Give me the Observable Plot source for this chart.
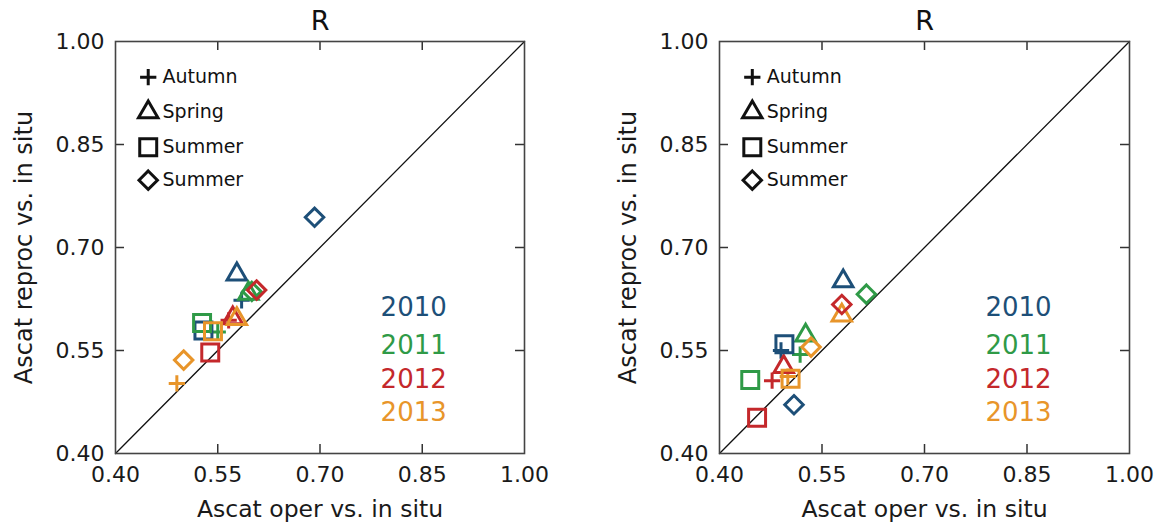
<!DOCTYPE html>
<html>
<head>
<meta charset="utf-8">
<script src="https://cdn.jsdelivr.net/npm/d3@7"></script>
<script src="https://cdn.jsdelivr.net/npm/@observablehq/plot@0.6"></script>
<style>
  html, body { margin: 0; padding: 0; background: #fff; }
  #wrap { display: flex; width: 1164px; height: 523px; }
</style>
</head>
<body>
<div id="wrap"></div>
<script>
// ---- categories ----
const years = ["2010", "2011", "2012", "2013"];
const yearColors = ["#1d4f78", "#2f9a47", "#c4282b", "#e8952a"];
const seasons = ["Autumn", "Spring", "Summer", "Summer"]; // legend labels as printed
const seasonSymbols = ["plus", "triangle2", "square2", "diamond2"];
const seasonRadius = [5.3, 9.3, 10.8, 8.3];
const tickValues = [0.40, 0.55, 0.70, 0.85, 1.00];
const innerTicks = [0.55, 0.70, 0.85];
const axisDomain = [0.40, 1.00];

// ---- left panel values: [Autumn, Spring, Summer(square), Summer(diamond)] ----
const leftOper2010 = [0.585, 0.578, 0.529, 0.692];
const leftReproc2010 = [0.623, 0.661, 0.579, 0.744];
const leftOper2011 = [0.550, 0.595, 0.527, 0.600];
const leftReproc2011 = [0.577, 0.633, 0.590, 0.636];
const leftOper2012 = [0.566, 0.572, 0.539, 0.607];
const leftReproc2012 = [0.594, 0.597, 0.547, 0.638];
const leftOper2013 = [0.490, 0.578, 0.543, 0.500];
const leftReproc2013 = [0.502, 0.596, 0.578, 0.536];

// ---- right panel values ----
const rightOper2010 = [0.490, 0.581, 0.495, 0.509];
const rightReproc2010 = [0.550, 0.651, 0.559, 0.471];
const rightOper2011 = [0.518, 0.526, 0.445, 0.615];
const rightReproc2011 = [0.544, 0.572, 0.507, 0.632];
const rightOper2012 = [0.477, 0.494, 0.455, 0.579];
const rightReproc2012 = [0.506, 0.526, 0.452, 0.617];
const rightOper2013 = [0.500, 0.579, 0.504, 0.534];
const rightReproc2013 = [0.512, 0.601, 0.509, 0.555];

// legend / annotation positions (data units)
const legendY = [0.948, 0.897, 0.846, 0.798];
const yearLabelY = [0.612, 0.557, 0.507, 0.459];

function panel(oper, reproc, marginLeft, marginRight) {
  const rows = [];
  years.forEach((yr, yi) => seasons.forEach((s, si) =>
    rows.push({oper: oper[yi][si], reproc: reproc[yi][si], year: yr, season: si})));
  const frameH = 523 - 41 - 70;
  const frameW = 582 - marginLeft - marginRight;
  const tl = 9;
  const font = "'DejaVu Sans', sans-serif";
  return Plot.plot({
    width: 582, height: 523,
    marginLeft, marginRight, marginTop: 41, marginBottom: 70,
    x: {domain: axisDomain},
    y: {domain: axisDomain},
    color: {domain: years, range: yearColors},
    style: {fontFamily: font, color: "#1a1a1a", background: "#fff"},
    marks: [
      Plot.line(axisDomain, {x: d => d, y: d => d, stroke: "#111", strokeWidth: 1.3}),
      Plot.tickX(innerTicks, {x: d => d, insetTop: frameH - tl, stroke: "#333", strokeWidth: 1.5}),
      Plot.tickX(innerTicks, {x: d => d, insetBottom: frameH - tl, stroke: "#333", strokeWidth: 1.5}),
      Plot.tickY(innerTicks, {y: d => d, insetRight: frameW - tl, stroke: "#333", strokeWidth: 1.5}),
      Plot.tickY(innerTicks, {y: d => d, insetLeft: frameW - tl, stroke: "#333", strokeWidth: 1.5}),
      Plot.frame({stroke: "#444", strokeWidth: 1.6}),
      Plot.axisX({ticks: tickValues, tickFormat: d3.format(".2f"), tickSize: 0, tickPadding: 13,
        fontSize: 22, label: null}),
      Plot.axisY({ticks: tickValues, tickFormat: d3.format(".2f"), tickSize: 0, tickPadding: 11,
        fontSize: 22, label: null}),
      Plot.text(["Ascat oper vs. in situ"], {frameAnchor: "bottom", dy: 56, lineAnchor: "middle", text: d => d, fontSize: 23.5, fill: "#1a1a1a"}),
      Plot.text(["Ascat reproc vs. in situ"], {frameAnchor: "left", dx: -91, rotate: -90, textAnchor: "middle", lineAnchor: "middle", text: d => d, fontSize: 24, fill: "#1a1a1a"}),
      ...seasons.map((s, si) => Plot.dot(rows.filter(d => d.season === si),
        {x: "oper", y: "reproc", stroke: "year", symbol: seasonSymbols[si], r: seasonRadius[si], strokeWidth: 3})),
      ...seasons.map((s, si) => Plot.dot([s],
        {x: 0.448, y: legendY[si], symbol: seasonSymbols[si], r: seasonRadius[si], stroke: "#111", strokeWidth: 3})),
      Plot.text(seasons, {x: 0.469, y: (d, i) => legendY[i], text: d => d, textAnchor: "start", fontSize: 19, fill: "#111"}),
      Plot.text(years, {x: 0.886, y: (d, i) => yearLabelY[i], text: d => d, fill: d => d, textAnchor: "end", fontSize: 26}),
      Plot.text(["R"], {frameAnchor: "top", dy: -20, lineAnchor: "middle", text: d => d, fontSize: 27, fill: "#111"})
    ]
  });
}

const wrap = document.getElementById("wrap");
wrap.append(panel(
  [leftOper2010, leftOper2011, leftOper2012, leftOper2013],
  [leftReproc2010, leftReproc2011, leftReproc2012, leftReproc2013], 115, 58));
wrap.append(panel(
  [rightOper2010, rightOper2011, rightOper2012, rightOper2013],
  [rightReproc2010, rightReproc2011, rightReproc2012, rightReproc2013], 137, 35));
</script>
</body>
</html>
